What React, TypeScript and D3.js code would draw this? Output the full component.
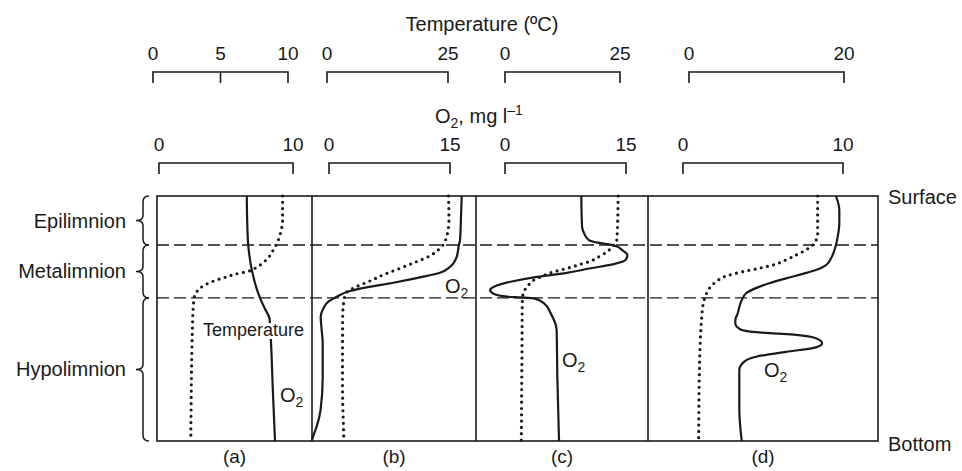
import * as d3 from "d3";

// relative depth: 0 = surface, 100 = bottom
const layers = [
  { name: "Epilimnion", top: 0, bottom: 20 },
  { name: "Metalimnion", top: 20, bottom: 41.6 },
  { name: "Hypolimnion", top: 41.6, bottom: 100 },
];

const panelLabels = ["(a)", "(b)", "(c)", "(d)"];
const tempTicks = [[0, 5, 10], [0, 25], [0, 25], [0, 20]];
const o2Ticks = [[0, 10], [0, 15], [0, 15], [0, 10]];

// [depth, temperature °C]
const tempA = [[0, 9.6], [10, 9.6], [15, 9.45], [18.5, 9.25], [20.7, 9.04], [25.4, 8.5], [27.5, 8.1], [29.1, 7.68], [30.9, 6.94], [31.6, 6.32], [33.2, 5.33], [35, 4.35], [36.3, 3.85], [39.1, 3.24], [41.1, 3.06], [50, 2.94], [100, 2.8]];
const tempB = [[0, 25.1], [10, 25.2], [16.6, 24.7], [19.3, 24.2], [22, 23.0], [24.8, 20.9], [26.8, 18.5], [29.5, 15.1], [32.2, 11.6], [35, 8.5], [37, 6.1], [39, 4.2], [41.8, 3.57], [49, 3.24], [75, 3.2], [100, 3.5]];
const tempC = [[0, 24.6], [10, 24.5], [18, 24.3], [20, 23.7], [22.7, 22.2], [24.8, 20.4], [26.8, 18.3], [27.8, 16.5], [29.1, 14.3], [30.2, 12.1], [31.3, 9.9], [32.7, 8.1], [34.3, 6.3], [37, 4.85], [39, 4.1], [42.4, 3.77], [60, 3.7], [100, 3.55]];
const tempD = [[0, 16.6], [15.2, 16.6], [18, 16.4], [20, 15.96], [22, 15.1], [24.1, 13.8], [26.1, 12.5], [28.2, 10.8], [29.5, 9.07], [30.9, 6.93], [32.7, 4.77], [35, 3.48], [37.7, 2.62], [41.1, 2.1], [47.9, 1.68], [73.7, 1.33], [100, 1.25]];

// [depth, O2 mg/l]
const o2A = [[0, 6.55], [10, 6.58], [20, 6.66], [30, 6.92], [38, 7.3], [41.6, 7.54], [46, 7.9], [50, 8.25], [60, 8.36], [80, 8.5], [100, 8.66]];
const o2B = [[0, 16.45], [10, 16.35], [18, 16.24], [20, 16.1], [24.8, 15.83], [28.9, 15.0], [31.3, 13.76], [33.2, 11.28], [35.4, 7.97], [37.3, 4.67], [38.8, 2.6], [41.1, 0.95], [43.1, -0.08], [45.9, -0.7], [49.3, -1.03], [55, -0.9], [60, -0.78], [74, -0.78], [87, -1.03], [94, -1.52], [97, -1.85], [100, -2.14]];
const o2C = [[0, 9.46], [12.5, 9.55], [15.2, 9.8], [18, 10.4], [19, 11.45], [19.6, 12.7], [20.4, 13.7], [22, 14.5], [24.1, 15.17], [26.1, 14.96], [27.8, 13.5], [29.5, 10.6], [31.6, 7.3], [33.2, 3.6], [35, 0.7], [37, -1.36], [38.4, -1.86], [40, -1.36], [41.1, 0.29], [41.4, 1.95], [41.8, 3.6], [43.8, 4.84], [47.9, 5.67], [54.7, 6.4], [74, 6.49], [100, 6.7]];
const o2D = [[0, 9.56], [5.7, 9.77], [11, 9.77], [16.6, 9.67], [20, 9.56], [24.8, 9.3], [28.2, 8.94], [30.2, 8.31], [31.8, 7.48], [33.6, 6.44], [35.6, 5.39], [37.6, 4.56], [39.7, 3.94], [43.1, 3.63], [47.9, 3.42], [50.6, 3.27], [52, 3.27], [54.5, 3.6], [55.6, 4.56], [56.2, 6.0], [56.7, 7.07], [58.1, 8.31], [60.1, 8.69], [61.8, 8.31], [63.6, 6.44], [65.6, 4.56], [67.6, 3.83], [71, 3.52], [87, 3.52], [100, 3.67]];

const tempSeries = [tempA, tempB, tempC, tempD];
const o2Series = [o2A, o2B, o2C, o2D];

// layout (pixels)
const W = 962;
const H = 471;
const plotTop = 196;
const plotBottom = 441;
const edges = [157, 312, 476, 648, 878];
const tempRanges = [[153, 288], [327, 448], [505, 620], [689, 844]];
const o2Ranges = [[159, 293], [329, 450], [505, 626], [683, 843]];
const o2LabelPos = [[280, 401.5], [445, 293], [562, 367], [764, 376.5]];
const tempAxisY = 72;
const o2AxisY = 163;

const FONT = "'Liberation Sans', Arial, Helvetica, sans-serif";
const INK = "#1a1a1a";

const y = d3.scaleLinear().domain([0, 100]).range([plotTop, plotBottom]);

function bracket(x0: number, x1: number, yy: number, inner: number[]) {
  let p = `M${x0},${yy + 11}L${x0},${yy}L${x1},${yy}L${x1},${yy + 11}`;
  inner.forEach((x) => (p += `M${x},${yy}L${x},${yy + 11}`));
  return p;
}

function brace(y0: number, y1: number) {
  const ym = (y0 + y1) / 2;
  const s = 143;
  return `M149,${y0}Q${s},${y0} ${s},${y0 + 6}L${s},${ym - 5}Q${s},${ym} 136,${ym}Q${s},${ym} ${s},${ym + 5}L${s},${y1 - 6}Q${s},${y1} 149,${y1}`;
}

export default function App() {
  const panels = panelLabels.map((label, i) => {
    const xt = d3.scaleLinear().domain([tempTicks[i][0], tempTicks[i][tempTicks[i].length - 1]]).range(tempRanges[i]);
    const xo = d3.scaleLinear().domain([o2Ticks[i][0], o2Ticks[i][o2Ticks[i].length - 1]]).range(o2Ranges[i]);
    const tLine = d3.line<number[]>().x((d) => xt(d[1])).y((d) => y(d[0])).curve(d3.curveMonotoneY);
    const oLine = d3.line<number[]>().x((d) => xo(d[1])).y((d) => y(d[0])).curve(d3.curveMonotoneY);
    return { label, i, xt, xo, tPath: tLine(tempSeries[i]) || "", oPath: oLine(o2Series[i]) || "" };
  });

  return (
    <svg width={W} height={H} style={{ position: "absolute", left: 0, top: 0, background: "#fff" }} fontFamily={FONT}>
      <rect width={W} height={H} fill="#fff" />

      {/* axis titles */}
      <text x={482} y={31} fontSize={20} textAnchor="middle" fill={INK}>Temperature (ºC)</text>
      <text x={435} y={123} fontSize={20} fill={INK}>
        O<tspan fontSize={14} dy={5}>2</tspan>
        <tspan dy={-5}>, mg l</tspan>
        <tspan fontSize={14} dy={-8}>–1</tspan>
      </text>

      {/* top axes */}
      {panels.map(({ i, xt, xo }) => (
        <g key={"ax" + i}>
          <path
            d={bracket(xt.range()[0], xt.range()[1], tempAxisY, tempTicks[i].slice(1, -1).map((t) => xt(t)))}
            fill="none" stroke={INK} strokeWidth={1.6}
          />
          {tempTicks[i].map((t) => (
            <text key={"t" + t} x={xt(t)} y={60} fontSize={19} textAnchor="middle" fill={INK}>{t}</text>
          ))}
          <path
            d={bracket(xo.range()[0], xo.range()[1], o2AxisY, [])}
            fill="none" stroke={INK} strokeWidth={1.6}
          />
          {o2Ticks[i].map((t) => (
            <text key={"o" + t} x={xo(t)} y={151} fontSize={19} textAnchor="middle" fill={INK}>{t}</text>
          ))}
        </g>
      ))}

      {/* layer boundaries */}
      {layers.slice(1).map((l) => (
        <line key={l.name} x1={edges[0]} x2={edges[edges.length - 1]} y1={y(l.top)} y2={y(l.top)}
          stroke={INK} strokeWidth={1.3} strokeDasharray="12 5" />
      ))}

      {/* frame */}
      <rect x={edges[0]} y={plotTop} width={edges[edges.length - 1] - edges[0]} height={plotBottom - plotTop}
        fill="none" stroke={INK} strokeWidth={1.6} />
      {edges.slice(1, -1).map((x) => (
        <line key={x} x1={x} x2={x} y1={plotTop} y2={plotBottom} stroke={INK} strokeWidth={1.6} />
      ))}

      {/* curves */}
      {panels.map(({ i, tPath, oPath }) => (
        <g key={"c" + i}>
          <path d={tPath} fill="none" stroke={INK} strokeWidth={3.2} strokeLinecap="round" strokeDasharray="0 6.3" />
          <path d={oPath} fill="none" stroke={INK} strokeWidth={2.2} />
        </g>
      ))}

      {/* labels inside panels */}
      <text x={203} y={336} fontSize={18} fill={INK} stroke="#fff" strokeWidth={6} paintOrder="stroke">Temperature</text>
      {o2LabelPos.map(([x, yy], i) => (
        <text key={"ol" + i} x={x} y={yy} fontSize={20} fill={INK}>
          O<tspan fontSize={14} dy={5}>2</tspan>
        </text>
      ))}

      {/* panel labels */}
      {panels.map(({ i, label }) => (
        <text key={"pl" + i} x={(edges[i] + edges[i + 1]) / 2} y={463} fontSize={19} textAnchor="middle" fill={INK}>{label}</text>
      ))}

      {/* layer names and braces */}
      {layers.map((l) => (
        <g key={"b" + l.name}>
          <path d={brace(y(l.top), y(l.bottom))} fill="none" stroke={INK} strokeWidth={1.5} />
          <text x={126} y={(y(l.top) + y(l.bottom)) / 2 + 7} fontSize={20} textAnchor="end" fill={INK}>{l.name}</text>
        </g>
      ))}

      <text x={888} y={204} fontSize={20} fill={INK}>Surface</text>
      <text x={888} y={450.5} fontSize={20} fill={INK}>Bottom</text>
    </svg>
  );
}
